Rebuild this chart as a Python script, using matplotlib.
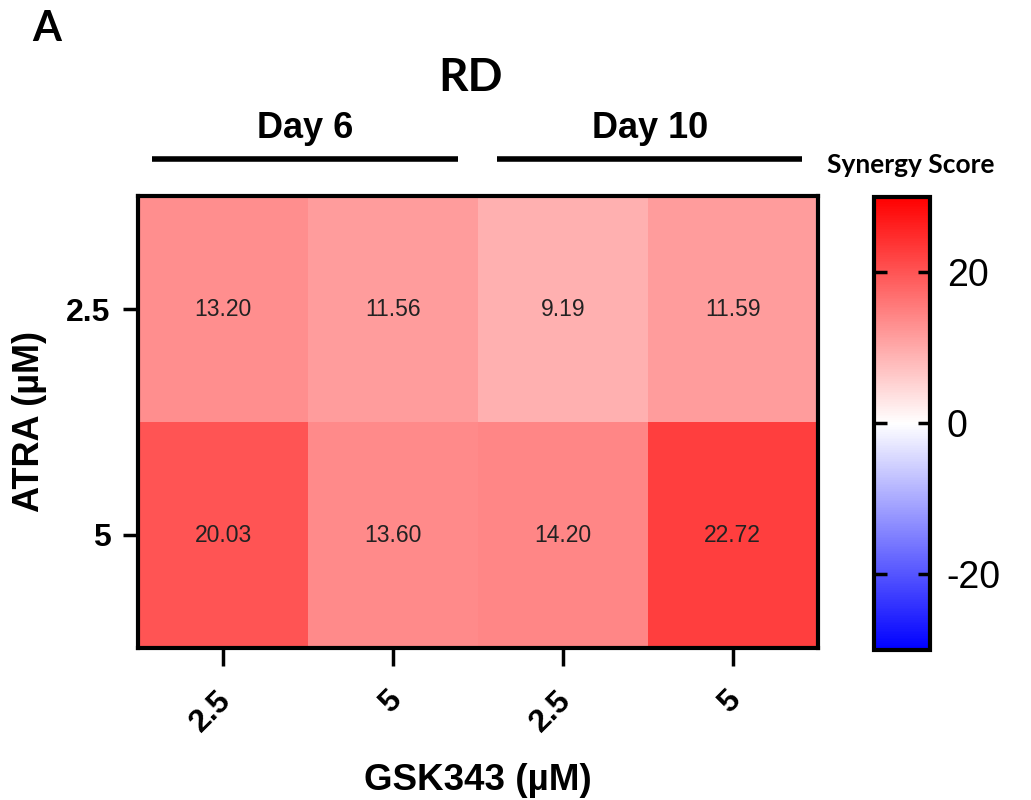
import numpy as np
import matplotlib
matplotlib.use("Agg")
import matplotlib.pyplot as plt
import matplotlib.transforms as mtransforms
from matplotlib.colors import LinearSegmentedColormap

# Data
atra_labels = ["2.5", "5"]
gsk_labels = ["2.5", "5", "2.5", "5"]
day_groups = ["Day 6", "Day 10"]
row_25 = [13.20, 11.56, 9.19, 11.59]
row_5 = [20.03, 13.60, 14.20, 22.72]
values = np.array([row_25, row_5])
vmin, vmax = -30, 30
cbar_ticks = [-20, 0, 20]

plt.rcParams['font.family'] = ['Liberation Sans', 'DejaVu Sans']

fig = plt.figure(figsize=(10.31, 8), dpi=100)
ax = fig.add_axes([0.134, 0.19, 0.659, 0.565])
cax = fig.add_axes([0.848, 0.1875, 0.054, 0.5665])

cmap = LinearSegmentedColormap.from_list("bwr2", [(0, "#0000ff"), (0.5, "#ffffff"), (1, "#ff0000")])
im = ax.imshow(values, cmap=cmap, vmin=vmin, vmax=vmax, aspect='auto')

for i in range(values.shape[0]):
    for j in range(values.shape[1]):
        ax.text(j, i, f"{values[i, j]:.2f}", ha='center', va='center', fontsize=16.5, color='#222222')

ax.set_xticks(range(len(gsk_labels)))
ax.set_xticklabels(gsk_labels, rotation=45, ha='right', rotation_mode='anchor', fontsize=23, fontweight='bold')
ax.set_yticks(range(len(atra_labels)))
ax.set_yticklabels(atra_labels, fontsize=23, fontweight='bold')
ax.tick_params(axis='y', length=11, width=2.5, direction='out', pad=9)
ax.tick_params(axis='x', length=13, width=2.5, direction='out', pad=14)
offset = mtransforms.ScaledTranslation(-7/100, 0, fig.dpi_scale_trans)
for lbl in ax.get_xticklabels():
    lbl.set_transform(lbl.get_transform() + offset)
for s in ax.spines.values():
    s.set_linewidth(3)
ax.set_xlabel("GSK343 (µM)", fontsize=26.5, fontweight='bold', labelpad=18)
ax.set_ylabel("ATRA (µM)", fontsize=26, fontweight='bold', labelpad=14)

cb = fig.colorbar(im, cax=cax, ticks=cbar_ticks)
cb.outline.set_linewidth(3)
cax.tick_params(length=9, width=2.5, direction='in', labelsize=27, pad=12, left=True, right=True)
cax.set_yticklabels([str(t) for t in cbar_ticks])

# Day brackets
fig.add_artist(plt.Line2D([152/1031, 458/1031], [1-159/800, 1-159/800], color='black', lw=4, solid_capstyle='butt'))
fig.add_artist(plt.Line2D([497/1031, 802/1031], [1-159/800, 1-159/800], color='black', lw=4, solid_capstyle='butt'))
fig.text(305/1031, 1-128/800, day_groups[0], ha='center', va='center', fontsize=26, fontweight='bold')
fig.text(650/1031, 1-128/800, day_groups[1], ha='center', va='center', fontsize=26, fontweight='bold')

fig.text(470/1031, 1-78/800, "RD", ha='center', va='center', fontsize=33, fontweight='bold', family=['Lato', 'DejaVu Sans'])
fig.text(47/1031, 1-29/800, "A", ha='center', va='center', fontsize=30, fontweight='bold', family=['Lato', 'DejaVu Sans'])
fig.text(911/1031, 1-165/800, "Synergy Score", ha='center', va='center', fontsize=19, fontweight='bold', family=['Lato', 'DejaVu Sans'])

fig.savefig("out.png", dpi=100, facecolor='white')
